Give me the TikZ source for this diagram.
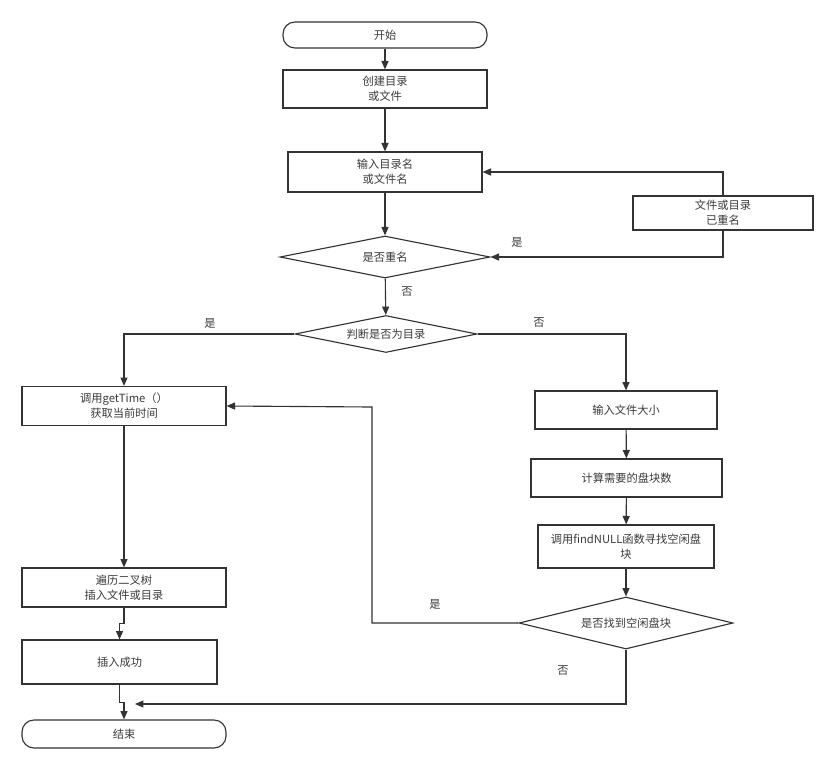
\documentclass[tikz,border=0pt]{standalone}
\usepackage{fontspec}
\setmainfont{Noto Sans CJK SC}
\usetikzlibrary{shapes.geometric,arrows.meta}
\definecolor{linegray}{HTML}{333333}
\definecolor{textgray}{HTML}{3A3A3A}

\begin{document}
\begin{tikzpicture}[x=0.025cm, y=-0.025cm,
    box/.style={draw=linegray, line width=0.8pt, align=center, inner sep=0pt,
        font=\fontsize{8}{10.6}\selectfont, text=textgray},
    term/.style={box, rounded corners=0.3cm},
    cond/.style={box, diamond, aspect=#1},
    arr/.style={draw=linegray, line width=0.8pt, -{Triangle[length=6pt,width=5pt]}},
    lbl/.style={font=\fontsize{8}{10}\selectfont, text=textgray}]

    % --- Canvas ---
    \useasboundingbox (0,0) rectangle (835,769);

    % --- Main column ---
    \node[term, minimum width=5.1cm, minimum height=0.65cm] (start) at (385,35) {开始};
    \node[box, minimum width=5.1cm, minimum height=0.95cm] (mk) at (385,89) {创建目录\\或文件};
    \node[box, minimum width=4.85cm, minimum height=1cm] (inname) at (385,172) {输入目录名\\或文件名};
    \node[box, minimum width=4.5cm, minimum height=0.85cm] (dup) at (723,213) {文件或目录\\已重名};
    \node[cond=5, minimum width=5.25cm, minimum height=1.05cm] (chkname) at (385,257) {是否重名};
    \node[cond=4.9, minimum width=4.55cm, minimum height=0.925cm] (isdir) at (386,334) {判断是否为目录};

    % --- Directory branch (left) ---
    \node[box, minimum width=5.1cm, minimum height=0.975cm] (gettime) at (124,406) {调用getTime（）\\获取当前时间};
    \node[box, minimum width=5.1cm, minimum height=0.975cm] (trav) at (124,587.5) {遍历二叉树\\插入文件或目录};
    \node[box, minimum width=4.875cm, minimum height=1.1cm] (ok) at (119.5,662) {插入成功};
    \node[term, minimum width=5.1cm, minimum height=0.7cm] (end) at (124,734) {结束};

    % --- File branch (right) ---
    \node[box, minimum width=4.55cm, minimum height=0.95cm] (fsize) at (626,410) {输入文件大小};
    \node[box, minimum width=4.775cm, minimum height=0.95cm] (calc) at (626.5,478) {计算需要的盘块数};
    \node[box, minimum width=4.4cm, minimum height=1.075cm] (find) at (626,546.5) {调用findNULL函数寻找空闲盘\\块};
    \node[cond=4.1, minimum width=5.35cm, minimum height=1.3cm] (found) at (626,623) {是否找到空闲盘块};

    % --- Free ends ---
    \coordinate (back) at (372,407);
    \coordinate (nomerge) at (135,704);

    % --- Connectors ---
    \draw[arr] (start) -- (mk);
    \draw[arr] (mk) -- (inname);
    \draw[arr] (inname) -- (chkname);
    \draw[arr] (dup.south) |- (chkname.east);
    \draw[arr] (dup.north) |- (inname.east);
    \draw[arr] (chkname) -- (isdir);
    \draw[arr] (isdir.west) -| (gettime.north);
    \draw[arr] (isdir.east) -| (fsize.north);
    \draw[arr] (gettime) -- (trav);
    \draw[arr] (trav.south) -- ++(0,16) -| (ok.north);
    \draw[arr] (ok.south) -- ++(0,18) -| (end.north);
    \draw[arr] (fsize) -- (calc);
    \draw[arr] (calc) -- (find);
    \draw[arr] (find) -- (found);
    \draw[arr] (found.west) -| (back) -- (gettime.east);
    \draw[arr] (found.south) |- (nomerge);

    % --- Branch labels ---
    \node[lbl] at (517,242) {是};
    \node[lbl] at (407,292) {否};
    \node[lbl] at (210,323) {是};
    \node[lbl] at (539,323) {否};
    \node[lbl] at (435,604) {是};
    \node[lbl] at (563,671) {否};

\end{tikzpicture}
\end{document}
